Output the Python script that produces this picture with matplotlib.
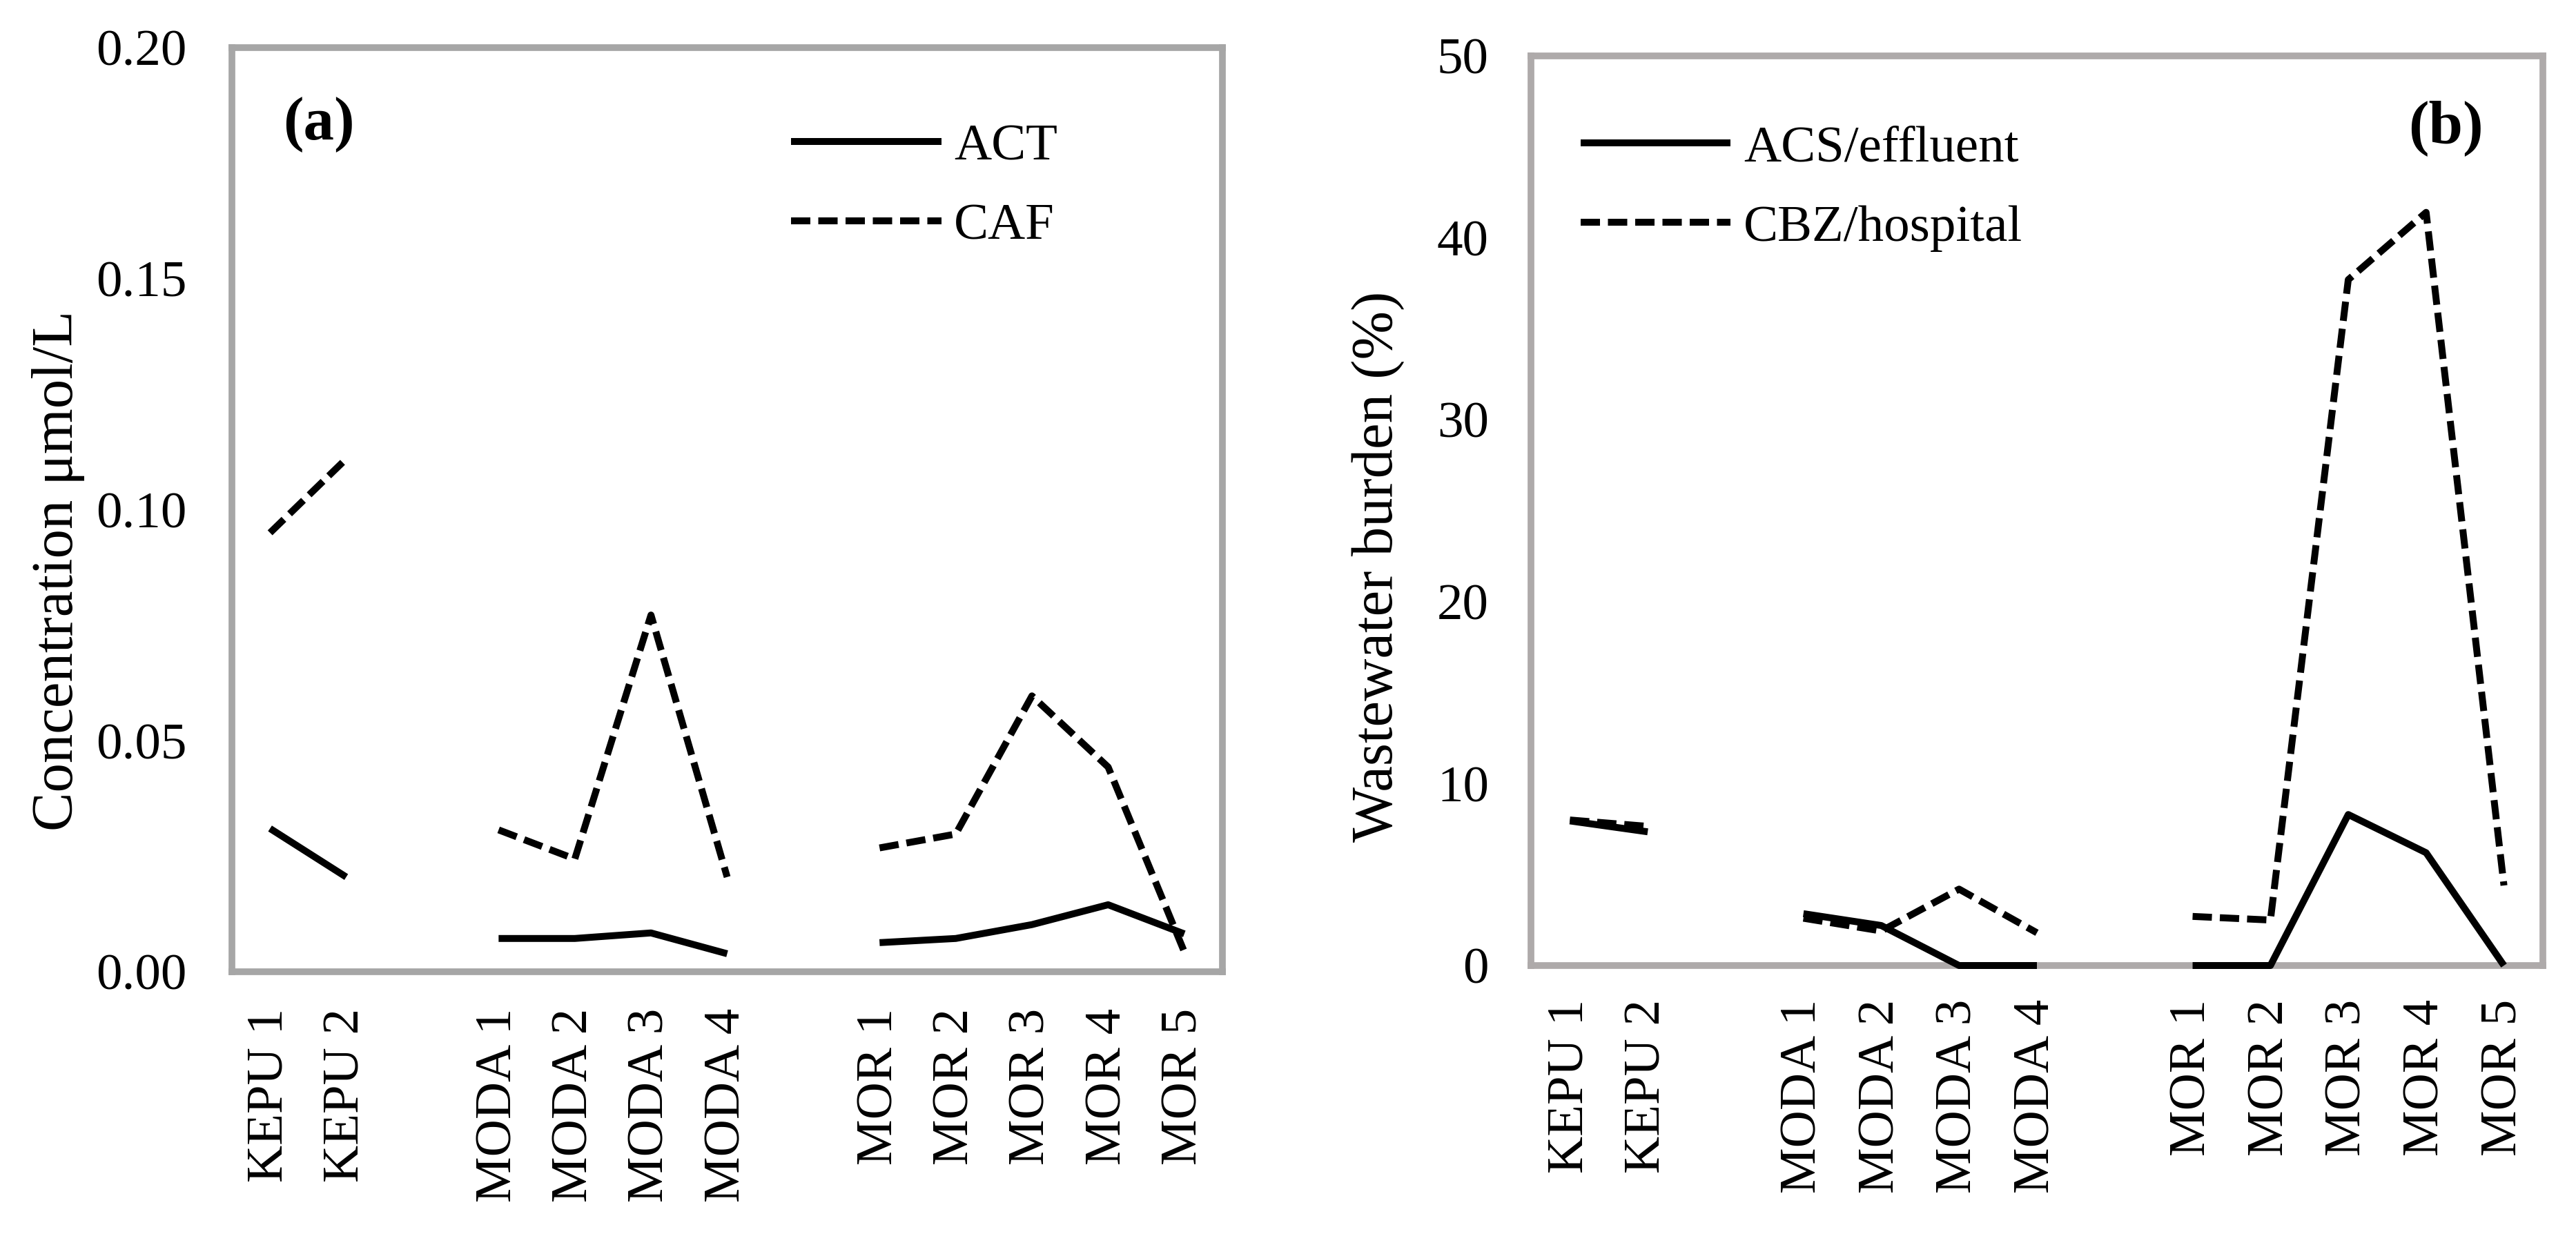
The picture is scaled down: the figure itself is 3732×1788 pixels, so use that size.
import numpy as np
import matplotlib
matplotlib.use("Agg")
import matplotlib.pyplot as plt

plt.rcParams['font.family'] = ['Liberation Serif', 'DejaVu Serif']

# categories (blank slots separate the three sites)
sites = ['KEPU 1', 'KEPU 2', '', 'MODA 1', 'MODA 2', 'MODA 3', 'MODA 4',
         '', 'MOR 1', 'MOR 2', 'MOR 3', 'MOR 4', 'MOR 5']
nan = np.nan

# (a) concentration, umol/L
act = [0.031, 0.0205, nan, 0.0072, 0.0072, 0.0084, 0.0039,
       nan, 0.0063, 0.0072, 0.0102, 0.0145, 0.0082]
caf = [0.095, 0.111, nan, 0.0307, 0.0244, 0.0772, 0.0205,
       nan, 0.0268, 0.0298, 0.0597, 0.0443, 0.0043]

# (b) wastewater burden, %
acs = [7.95, 7.35, nan, 2.85, 2.2, 0.0, 0.0,
       nan, 0.0, 0.0, 8.3, 6.2, 0.0]
cbz = [8.0, 7.65, nan, 2.6, 1.9, 4.2, 1.8,
       nan, 2.7, 2.5, 37.7, 41.4, 4.4]

W, H = 3732, 1788
fig = plt.figure(figsize=(W / 100, H / 100), dpi=100)

ax1 = fig.add_axes([336 / W, 1 - 1408 / H, (1771 - 336) / W, (1408 - 69) / H])
ax2 = fig.add_axes([2218 / W, 1 - 1399 / H, (3684 - 2218) / W, (1399 - 81) / H])

lw = 7.2
dash = (0, (2.8, 1.15))
x = np.arange(len(sites))


def style(ax, frame_col, xpad, ypad):
    for s in ax.spines.values():
        s.set_color(frame_col)
        s.set_linewidth(7)
    ax.set_xlim(-0.5, len(sites) - 0.5)
    ax.set_xticks(x)
    ax.set_xticklabels(sites, rotation=90, fontsize=54)
    ax.tick_params(axis='x', length=0, pad=xpad)
    ax.tick_params(axis='y', length=0, pad=ypad, labelsize=54)


ax1.plot(x, act, color='black', lw=lw, solid_capstyle='butt', label='ACT',
         zorder=3, clip_on=False)
ax1.plot(x, caf, color='black', lw=lw, linestyle=dash, dash_capstyle='butt',
         label='CAF', zorder=3, clip_on=False)
ax1.set_ylim(0, 0.20)
ax1.set_yticks([0, 0.05, 0.10, 0.15, 0.20])
ax1.set_yticklabels(['0.00', '0.05', '0.10', '0.15', '0.20'])
style(ax1, '#A6A6A6', 38, 47)
ax1.set_ylabel('Concentration \u03bcmol/L', fontsize=61)
ax1.yaxis.set_label_coords(-0.1484, 0.434)
ax1.text(0.0516, 0.917, '(a)', transform=ax1.transAxes, fontsize=64,
         fontweight='bold', ha='left', va='center')
ax1.legend(loc='upper left', bbox_to_anchor=(0.5645, 0.918), frameon=False,
           fontsize=54, handlelength=2.9, handletextpad=0.25, labelspacing=0.62,
           borderpad=0, borderaxespad=0)

ax2.plot(x, acs, color='black', lw=lw, solid_capstyle='butt', label='ACS/effluent',
         zorder=3, clip_on=False)
ax2.plot(x, cbz, color='black', lw=lw, linestyle=dash, dash_capstyle='butt',
         label='CBZ/hospital', zorder=3, clip_on=False)
ax2.set_ylim(0, 50)
ax2.set_yticks([0, 10, 20, 30, 40, 50])
style(ax2, '#AEAAAA', 35, 44)
ax2.set_ylabel('Wastewater burden (%)', fontsize=61)
ax2.yaxis.set_label_coords(-0.1248, 0.439)
ax2.text(0.904, 0.921, '(b)', transform=ax2.transAxes, fontsize=64,
         fontweight='bold', ha='center', va='center')
ax2.legend(loc='upper left', bbox_to_anchor=(0.0491, 0.924), frameon=False,
           fontsize=54, handlelength=2.9, handletextpad=0.25, labelspacing=0.62,
           borderpad=0, borderaxespad=0)

fig.savefig('out.png', dpi=100)
